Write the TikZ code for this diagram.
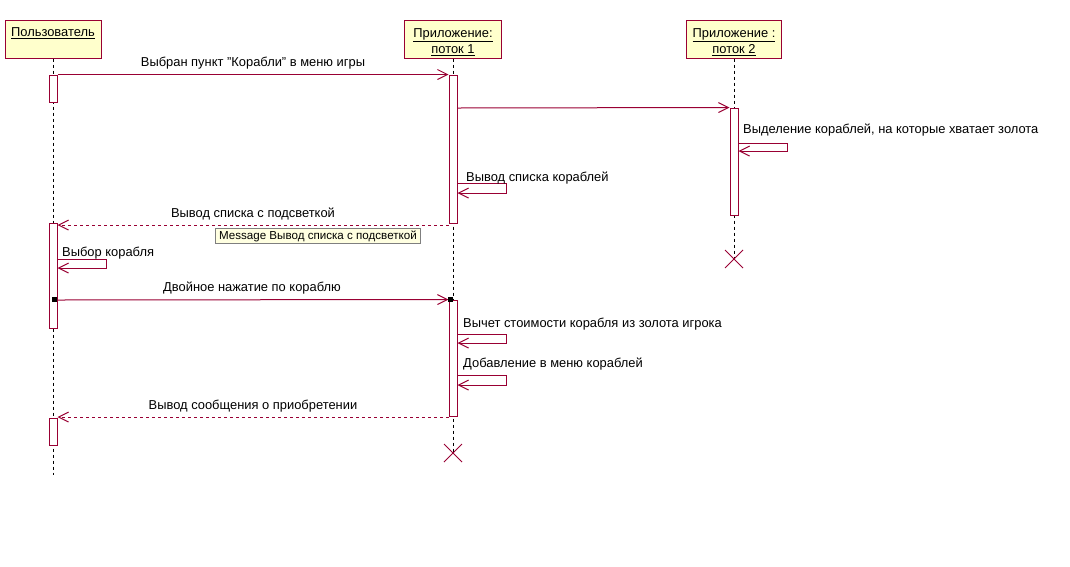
\documentclass[tikz,border=0pt]{standalone}
\usepackage{fontspec}
\setmainfont{Liberation Sans}
\usetikzlibrary{arrows.meta,calc}
\definecolor{umlred}{HTML}{990033}
\definecolor{umlfill}{HTML}{FFFFCC}
\definecolor{tipfill}{HTML}{FFFFE1}
\definecolor{tipedge}{HTML}{7F7F7F}
\begin{document}
\begin{tikzpicture}[x=1pt,y=-1pt,
  font=\fontsize{12.9}{16}\selectfont,
  objbox/.style={draw=umlred, fill=umlfill, line width=1pt, inner sep=0pt,
    minimum height=38pt},
  title/.style={inner sep=0pt, align=center, font=\fontsize{12.9}{16}\selectfont},
  lifeline/.style={draw=black, line width=1pt, dash pattern=on 3pt off 3pt},
  act/.style={draw=umlred, fill=white, line width=1pt, minimum width=8pt, inner sep=0pt},
  msg/.style={draw=umlred, line width=1pt, -{Straight Barb[length=10pt,width=10pt]}},
  ret/.style={msg, dash pattern=on 3pt off 3pt},
  txt/.style={inner sep=0pt},
  killx/.style={draw=umlred, line width=1pt},
  dot/.style={fill=black, inner sep=0pt, minimum size=5pt},
  tip/.style={draw=tipedge, fill=tipfill, line width=1pt, inner sep=0pt,
    minimum width=205pt, minimum height=15pt, anchor=north west,
    font=\fontsize{11.6}{13}\selectfont}
]
\useasboundingbox (0,0) rectangle (1070,566);

% object boxes
\node[objbox, minimum width=96pt] (user) at (53,39) {};
\node[objbox, minimum width=97pt] (app1) at (453,39) {};
\node[objbox, minimum width=95pt] (app2) at (734,39) {};
\node[title] (userT) at (53,33.5) {\underline{Пользователь}};
\node[title] (app1T) at (453,42) {\underline{Приложение:}\\\underline{поток 1}};
\node[title] (app2T) at (734,42) {\underline{Приложение :}\\\underline{поток 2}};

% lifelines ending points
\coordinate (userEnd) at (53,475);
\coordinate (app1X) at (453,453);
\coordinate (app2X) at (734,259);
\draw[lifeline] (user.south) -- (userEnd);
\draw[lifeline] (app1.south) -- (app1X);
\draw[lifeline] (app2.south) -- (app2X);

% destruction marks
\draw[killx] ($(app1X)+(-9,-9)$) -- ($(app1X)+(9,9)$) ($(app1X)+(-9,9)$) -- ($(app1X)+(9,-9)$);
\draw[killx] ($(app2X)+(-9,-9)$) -- ($(app2X)+(9,9)$) ($(app2X)+(-9,9)$) -- ($(app2X)+(9,-9)$);

% activation bars
\node[act, minimum height=27pt]  (uA1) at (53,88.5) {};
\node[act, minimum height=105pt] (uA2) at (53,275.5) {};
\node[act, minimum height=27pt]  (uA3) at (53,431.5) {};
\node[act, minimum height=148pt] (aA1) at (453,149) {};
\node[act, minimum height=116pt] (aA2) at (453,358) {};
\node[act, minimum height=107pt] (tA1) at (734,161.5) {};

% message levels
\coordinate (y2) at (0,108);
\coordinate (s1a) at (0,143);
\coordinate (s1b) at (0,151);
\coordinate (s2a) at (0,183);
\coordinate (s2b) at (0,193);
\coordinate (r1) at (0,225);
\coordinate (s3a) at (0,259);
\coordinate (s3b) at (0,268);
\coordinate (m5) at (0,300);
\coordinate (s4a) at (0,334);
\coordinate (s4b) at (0,343);
\coordinate (s5a) at (0,375);
\coordinate (s5b) at (0,385);
\coordinate (r2) at (0,417);

% synchronous messages
\draw[msg] (uA1.north east) -- (aA1.north west);
\node[txt] (m1L) at (253,63.5) {Выбран пункт "Корабли" в меню игры};
\draw[msg] (aA1.east |- y2) -- (tA1.north west);

% self message on thread 2
\draw[msg] (tA1.east |- s1a) -- ++(49,0) |- (tA1.east |- s1b);
\node[txt, anchor=west] (s1L) at (743,130.5) {Выделение кораблей, на которые хватает золота};

% self message on thread 1
\draw[msg] (aA1.east |- s2a) -- ++(49,0) |- (aA1.east |- s2b);
\node[txt, anchor=west] (s2L) at (466,178.5) {Вывод списка кораблей};

% reply with highlighted list
\draw[ret] (aA1.west |- r1) -- (uA2.east |- r1);
\node[txt] (r1L) at (253,213.5) {Вывод списка с подсветкой};
\node[tip] (tipbox) at (215,228) {Message Вывод списка с подсветкой};

% ship choice
\draw[msg] (uA2.east |- s3a) -- ++(49,0) |- (uA2.east |- s3b);
\node[txt, anchor=west] (s3L) at (62,253) {Выбор корабля};

% double click
\draw[msg] (uA2.east |- m5) -- (aA2.north west);
\node[dot] (dotU) at (54.5,299.5) {};
\node[dot] (dotA) at (450.5,299.5) {};
\node[txt] (m5L) at (252,288.5) {Двойное нажатие по кораблю};

% purchase steps
\draw[msg] (aA2.east |- s4a) -- ++(49,0) |- (aA2.east |- s4b);
\node[txt, anchor=west] (s4L) at (463,324) {Вычет стоимости корабля из золота игрока};
\draw[msg] (aA2.east |- s5a) -- ++(49,0) |- (aA2.east |- s5b);
\node[txt, anchor=west] (s5L) at (463,364) {Добавление в меню кораблей};

% purchase reply
\draw[ret] (aA2.west |- r2) -- (uA3.east |- r2);
\node[txt] (r2L) at (253,406.5) {Вывод сообщения о приобретении};
\end{tikzpicture}
\end{document}
